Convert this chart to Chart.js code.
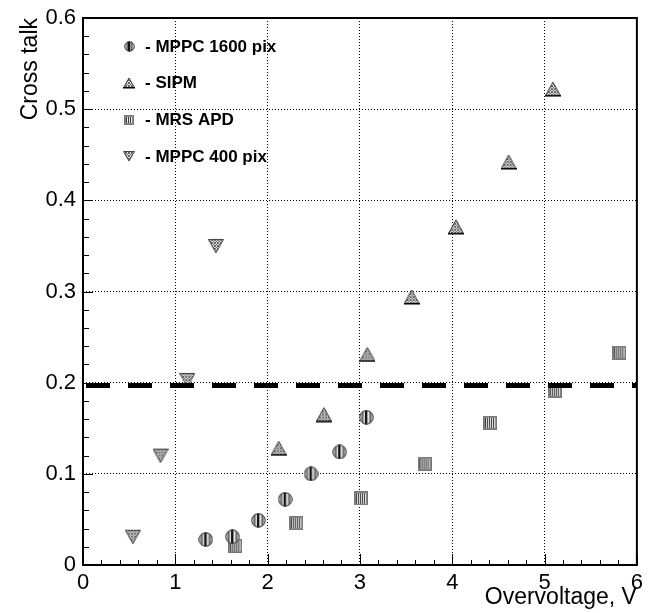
<!DOCTYPE html>
<html>
<head>
<meta charset="utf-8">
<script src="https://cdn.jsdelivr.net/npm/chart.js@4/dist/chart.umd.min.js"></script>
<style>
html,body{margin:0;padding:0;background:#fff;}
#c{display:block;}
</style>
</head>
<body>
<canvas id="c" width="650" height="613"></canvas>
<script>
// ---- data ----
const seriesNames = ["MPPC 1600 pix", "SIPM", "MRS APD", "MPPC 400 pix"];
const mppc1600X = [1.33, 1.62, 1.90, 2.19, 2.47, 2.78, 3.07];
const mppc1600Y = [0.028, 0.031, 0.049, 0.072, 0.100, 0.124, 0.162];
const sipmX = [2.12, 2.61, 3.08, 3.56, 4.04, 4.61, 5.09];
const sipmY = [0.128, 0.165, 0.231, 0.294, 0.371, 0.442, 0.522];
const mrsX = [1.65, 2.31, 3.01, 3.70, 4.41, 5.11, 5.81];
const mrsY = [0.021, 0.046, 0.073, 0.111, 0.156, 0.191, 0.233];
const mppc400X = [0.54, 0.84, 1.13, 1.44];
const mppc400Y = [0.031, 0.120, 0.203, 0.350];
const thresholdX = [0, 6];
const thresholdY = [0.197, 0.197];
const xTitle = "Overvoltage, V";
const yTitle = "Cross talk";

const FONT = "'Liberation Sans', Arial, Helvetica, sans-serif";

function pts(xs, ys){ return xs.map((x,i)=>({x:x, y:ys[i]})); }

// ---- marker images ----
function mk(size, draw){
  const c = document.createElement('canvas');
  c.width = size; c.height = size;
  const g = c.getContext('2d');
  draw(g, size);
  return c;
}
function circleImg(s){
  return mk(s, (g, s)=>{
    const r = s/2 - 0.5;
    g.save();
    g.beginPath(); g.arc(s/2, s/2, r, 0, Math.PI*2); g.clip();
    g.fillStyle = '#9a9a9a'; g.fillRect(0,0,s,s);
    for(let x=1; x<s; x+=2){ g.fillStyle = (x%4===1)?'#e8e8e8':'#6a6a6a'; g.fillRect(x,0,1,s); }
    g.fillStyle = '#111'; g.fillRect(Math.floor(s/2)-1,0,2,s);
    g.restore();
    g.beginPath(); g.arc(s/2, s/2, r-0.3, 0, Math.PI*2);
    g.strokeStyle = '#333'; g.lineWidth = 1; g.stroke();
  });
}
function triImg(s, down){
  return mk(s, (g, s)=>{
    const p = down ? [[0.5,1.5],[s-0.5,1.5],[s/2,s-1]] : [[s/2,1],[s-0.5,s-1.5],[0.5,s-1.5]];
    g.save();
    g.beginPath(); g.moveTo(p[0][0],p[0][1]); g.lineTo(p[1][0],p[1][1]); g.lineTo(p[2][0],p[2][1]); g.closePath();
    g.clip();
    g.fillStyle = '#e0e0e0'; g.fillRect(0,0,s,s);
    g.strokeStyle = '#666'; g.lineWidth = 1;
    for(let k=-s; k<2*s; k+=3){
      g.beginPath(); g.moveTo(k,0); g.lineTo(k+s,s); g.stroke();
      g.beginPath(); g.moveTo(k+s,0); g.lineTo(k,s); g.stroke();
    }
    g.restore();
    g.beginPath(); g.moveTo(p[0][0],p[0][1]); g.lineTo(p[1][0],p[1][1]); g.lineTo(p[2][0],p[2][1]); g.closePath();
    g.strokeStyle = '#444'; g.lineWidth = 1; g.stroke();
    if(!down){ g.fillStyle='#000'; g.fillRect(0, s-2, s, 1.5); }
  });
}
function sqImg(s){
  return mk(s, (g, s)=>{
    g.fillStyle = '#8a8a8a'; g.fillRect(0,0,s,s);
    g.fillStyle = '#333'; g.fillRect(2,2,s-4,s-4);
    for(let x=3; x<s-2; x+=2){ g.fillStyle = '#f0f0f0'; g.fillRect(x,2,1,s-4); }
    g.strokeStyle = '#777'; g.lineWidth = 1; g.strokeRect(0.5,0.5,s-1,s-1);
  });
}

const imgs = [circleImg(15), triImg(16,false), sqImg(14), triImg(16,true)];
const legImgs = [circleImg(11), triImg(12,false), sqImg(10), triImg(12,true)];

// ---- plugins ----
const framePlugin = {
  id: 'frame',
  afterDatasetsDraw(chart){
    const {ctx, chartArea: a, scales} = chart;
    const xs = scales.x, ys = scales.y;
    ctx.save();
    ctx.strokeStyle = '#000';
    ctx.lineWidth = 1;
    // inside ticks on x axis
    for(let i=0; i<=30; i++){
      const v = i*0.2;
      const px = Math.round(xs.getPixelForValue(v)) + 0.5;
      const len = (i%5===0) ? 11 : 5;
      ctx.beginPath(); ctx.moveTo(px, a.bottom); ctx.lineTo(px, a.bottom - len); ctx.stroke();
    }
    // inside ticks on y axis
    for(let i=0; i<=30; i++){
      const v = i*0.02;
      const py = Math.round(ys.getPixelForValue(v)) + 0.5;
      const len = (i%5===0) ? 10 : 6;
      ctx.beginPath(); ctx.moveTo(a.left, py); ctx.lineTo(a.left + len, py); ctx.stroke();
    }
    ctx.lineWidth = 2;
    ctx.strokeRect(a.left, a.top, a.right - a.left, a.bottom - a.top);
    // legend
    ctx.font = "bold 17px " + FONT;
    ctx.fillStyle = '#000';
    ctx.textBaseline = 'middle';
    ctx.textAlign = 'left';
    const sd = chart.data.datasets.filter(d => d.isSeries);
    sd.forEach((d, i) => {
      const y = a.top + 28 + i*36.8;
      const im = legImgs[i];
      ctx.drawImage(im, Math.round(a.left + 46 - im.width/2), Math.round(y - im.height/2));
      ctx.fillText("- " + d.label, a.left + 62, y + 1);
    });
    ctx.restore();
  }
};

const ctx = document.getElementById('c').getContext('2d');
new Chart(ctx, {
  type: 'scatter',
  data: {
    datasets: [
      { label: 'threshold', type: 'line', data: pts(thresholdX, thresholdY),
        borderColor: '#000', borderWidth: 5, borderDash: [24, 18], borderDashOffset: 39,
        borderCapStyle: 'butt', pointRadius: 0, fill: false, order: 0 },
      { label: seriesNames[0], isSeries: true, data: pts(mppc1600X, mppc1600Y), pointStyle: imgs[0], order: 1 },
      { label: seriesNames[1], isSeries: true, data: pts(sipmX, sipmY), pointStyle: imgs[1], order: 1 },
      { label: seriesNames[2], isSeries: true, data: pts(mrsX, mrsY), pointStyle: imgs[2], order: 1 },
      { label: seriesNames[3], isSeries: true, data: pts(mppc400X, mppc400Y), pointStyle: imgs[3], order: 1 }
    ]
  },
  options: {
    responsive: false,
    animation: false,
    events: [],
    layout: { padding: { top: 15, right: 9, left: 0, bottom: 0 } },
    plugins: { legend: { display: false }, tooltip: { enabled: false } },
    scales: {
      x: {
        type: 'linear', min: 0, max: 6,
        afterFit(s){ s.height = 48; },
        ticks: { stepSize: 1, padding: 7, color: '#000', font: { family: FONT, size: 22, lineHeight: 1 } },
        grid: { drawTicks: false, lineWidth: 1,
          color: (c) => (c.tick && (c.tick.value === 0 || c.tick.value === 6)) ? 'rgba(0,0,0,0)' : '#000' },
        border: { display: false, dash: [1, 2] },
        title: { display: true, text: xTitle, align: 'end', color: '#000',
          font: { family: FONT, size: 23 }, padding: { top: 0, bottom: 2 } }
      },
      y: {
        type: 'linear', min: 0, max: 0.6,
        afterFit(s){ s.width = 83; },
        ticks: { stepSize: 0.1, padding: 7, color: '#000', font: { family: FONT, size: 22, lineHeight: 1 },
          callback: (v) => String(Math.round(v*10)/10) },
        grid: { drawTicks: false, lineWidth: 1,
          color: (c) => (c.tick && (Math.abs(c.tick.value) < 1e-9 || Math.abs(c.tick.value - 0.6) < 1e-9)) ? 'rgba(0,0,0,0)' : '#000' },
        border: { display: false, dash: [1, 2] },
        title: { display: true, text: yTitle, align: 'end', color: '#000',
          font: { family: FONT, size: 23 }, padding: { top: 17, bottom: 0 } }
      }
    }
  },
  plugins: [framePlugin]
});
</script>
</body>
</html>
